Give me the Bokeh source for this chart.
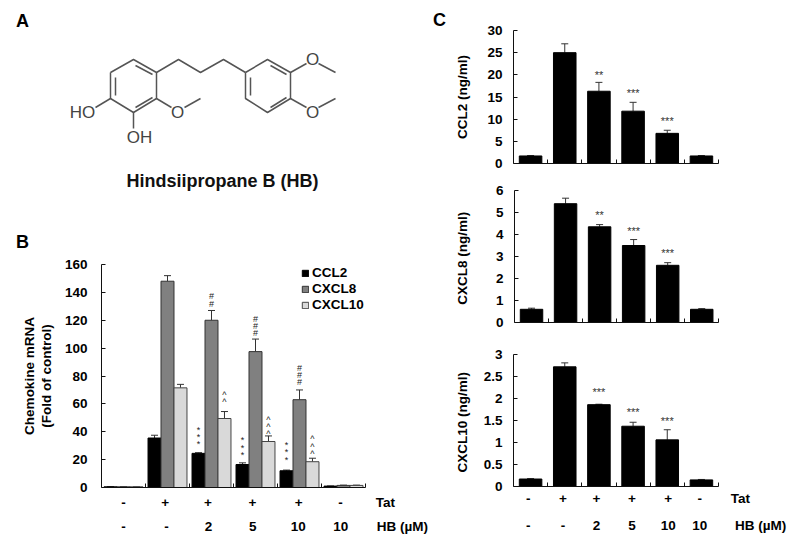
from bokeh.plotting import figure
from bokeh.layouts import row, column
from bokeh.models import (Range1d, FixedTicker, Whisker, TeeHead, ColumnDataSource,
                          Legend, LegendItem, LinearAxis)
from bokeh.core.properties import value
from bokeh.embed import file_html
from bokeh.resources import INLINE

FONT = "Liberation Sans"
INK = "#111111"

# ---- Panel B data
groups = [0, 1, 2, 3, 4, 5]
b_ccl2 = [0.5, 35.5, 24.5, 16.5, 12, 1.0]
b_ccl2_err = [0.1, 2, 0.5, 1.2, 0.5, 0.1]
b_cxcl8 = [0.5, 148, 120, 97.5, 63, 1.5]
b_cxcl8_err = [0.1, 4, 7, 9, 7, 0.2]
b_cxcl10 = [0.5, 71.5, 49.5, 33, 18.5, 1.5]
b_cxcl10_err = [0.1, 2.5, 5, 4, 2.5, 0.2]
b_yticks = [0, 20, 40, 60, 80, 100, 120, 140, 160]
tat_labels = ["-", "+", "+", "+", "+", "-", "Tat"]
hb_labels = ["-", "-", "2", "5", "10", "10", "HB (µM)"]
b_star_group = [2, 3, 4]
b_star_y = [30, 22.3, 19]
b_star_txt = ["***", "***", "***"]
b_hash_y = [129.5, 108, 73]
b_hash_txt = ["##", "###", "###"]
b_care_y = [60, 37, 23]
b_care_txt = ["^^", "^^^", "^^^"]

# ---- Panel C data
c1_vals = [1.7, 25, 16.3, 11.8, 6.8, 1.7]
c1_err = [0.1, 2, 2, 2, 0.7, 0.1]
c1_ticks = [0, 5, 10, 15, 20, 25, 30]
c1_sig = ["**", "***", "***"]
c1_sig_y = [20, 15.8, 9.6]
c2_vals = [0.6, 5.4, 4.35, 3.5, 2.6, 0.6]
c2_err = [0.05, 0.25, 0.1, 0.27, 0.12, 0.03]
c2_ticks = [0, 1, 2, 3, 4, 5, 6]
c2_sig = ["**", "***", "***"]
c2_sig_y = [4.88, 4.17, 3.14]
c3_vals = [0.17, 2.72, 1.86, 1.37, 1.06, 0.15]
c3_err = [0.01, 0.09, 0.01, 0.09, 0.23, 0.01]
c3_ticks = [0, 0.5, 1, 1.5, 2, 2.5, 3]
c3_sig = ["***", "***", "***"]
c3_sig_y = [2.14, 1.70, 1.48]

# ---- Structure drawing (panel A)
ring1 = [(110, 72), (133, 59), (156, 72), (156, 98), (133, 112), (110, 98), (110, 72)]
chain = [(156, 72), (178, 59), (200, 72), (223, 59), (245, 72)]
ring2 = [(245, 72), (267, 59), (290, 72), (290, 98), (267, 112), (245, 98), (245, 72)]
doubles = [((115, 77), (115, 95)), ((135, 65), (152, 74)), ((135, 107), (152, 97)),
           ((250, 77), (250, 95)), ((270, 65), (286, 74)), ((270, 107), (286, 97))]
singles = [((290, 72), (306, 63)), ((318, 63), (335, 72)),
           ((290, 98), (306, 107)), ((318, 107), (335, 98)),
           ((156, 98), (171, 107)), ((184, 107), (200, 98)),
           ((110, 98), (95, 107)), ((133, 112), (133, 128))]
atoms = [(312, 59, "O"), (312, 112, "O"), (177, 112, "O"), (82, 112, "HO"), (139, 137, "OH")]
letters = [(22, 20, "A"), (22, 241, "B"), (439, 19, "C")]


def base_fig(w, h, left, right, top, bottom, ymax, ticks, title, x_end, tick_off, title_off):
    p = figure(width=w, height=h, x_range=Range1d(0, x_end), y_range=Range1d(0, ymax),
               output_backend="svg", toolbar_location=None, frame_align=False,
               x_axis_type=None,
               min_border_left=left, min_border_right=right, min_border_top=top, min_border_bottom=bottom)
    p.outline_line_color = None
    p.grid.visible = False
    p.background_fill_color = None
    p.border_fill_color = None
    ax = p.yaxis[0]
    ax.ticker = FixedTicker(ticks=ticks)
    ax.major_tick_in = 4
    ax.major_tick_out = 0
    ax.minor_tick_line_color = None
    ax.axis_line_color = INK
    ax.major_tick_line_color = INK
    ax.major_label_text_font = FONT
    ax.major_label_text_font_style = "bold"
    ax.major_label_text_font_size = "13.5px"
    ax.major_label_text_color = "#000000"
    ax.major_label_standoff = tick_off
    ax.axis_label = title
    ax.axis_label_text_font = FONT
    ax.axis_label_text_font_style = "bold"
    ax.axis_label_text_font_size = "13.5px"
    ax.axis_label_text_color = "#000000"
    ax.axis_label_standoff = title_off
    ax.axis_label_text_line_height = 1.1
    xa = LinearAxis(ticker=FixedTicker(ticks=[], minor_ticks=[1, 2, 3, 4, 5, 6]), bounds=(0, 6))
    xa.major_tick_line_color = None
    xa.minor_tick_in = 4
    xa.minor_tick_out = 0
    xa.minor_tick_line_color = INK
    xa.axis_line_color = INK
    xa.major_label_standoff = 0
    p.add_layout(xa, "below")
    return p


def errs(p, x, y, e, color):
    src = ColumnDataSource(dict(x=x, low=y, upper=[a + b for a, b in zip(y, e)]))
    p.add_layout(Whisker(source=src, dimension="height", base="x", upper="upper", lower="low",
                         line_color=color, line_width=1, lower_head=None,
                         upper_head=TeeHead(size=7, line_color=color, line_width=1)))


def row_axis(p, labels, xs, standoff):
    a = LinearAxis(ticker=FixedTicker(ticks=xs),
                   major_label_overrides={x: t for x, t in zip(xs, labels)})
    a.axis_line_color = None
    a.major_tick_line_color = None
    a.minor_tick_line_color = None
    a.major_label_standoff = standoff
    a.major_label_text_font = FONT
    a.major_label_text_font_style = "bold"
    a.major_label_text_font_size = "13.5px"
    a.major_label_text_color = "#000000"
    p.add_layout(a, "below")


def stacked(p, xs, ys, marks, drop):
    """Draw each significance mark as a vertical stack of single characters above its bar."""
    sx, sy, st, so = [], [], [], []
    for x, y, m in zip(xs, ys, marks):
        for k, ch in enumerate(m):
            sx.append(x)
            sy.append(y)
            st.append(ch)
            so.append(drop - 3.5 - 7.3 * k)
    p.text(sx, sy, text=st, y_offset=so, text_font=value(FONT), text_font_size="9px",
           text_align="center", text_baseline="middle", text_color="#222222")


# ---- Panel A (drawn in page pixels)
pa = figure(width=443, height=242, x_range=Range1d(8, 451), y_range=Range1d(250, 8),
            output_backend="svg", toolbar_location=None, min_border=0, frame_align=False,
            x_axis_type=None, y_axis_type=None)
pa.grid.visible = False
pa.outline_line_color = None
pa.background_fill_color = None
pa.border_fill_color = None
GREY = "#555555"
for path in (ring1, chain, ring2):
    pa.line([q[0] for q in path], [q[1] for q in path], line_color=GREY, line_width=1.5)
for a, b in doubles + singles:
    pa.line([a[0], b[0]], [a[1], b[1]], line_color=GREY, line_width=1.5)
pa.text([q[0] for q in atoms], [q[1] for q in atoms], text=[q[2] for q in atoms],
        text_font=value(FONT), text_font_size="17px", text_color="#444444",
        text_align="center", text_baseline="middle")
pa.text([222], [180], text=["Hindsiipropane B (HB)"], text_font=value(FONT), text_font_style="bold",
        text_font_size="18px", text_color="#111111", text_align="center", text_baseline="middle")
pa.text([q[0] for q in letters], [q[1] for q in letters], text=[q[2] for q in letters],
        text_font=value(FONT), text_font_style="bold", text_font_size="18px", text_color="#000000",
        text_align="center", text_baseline="middle")

# ---- Panel B
pb = base_fig(443, 288, 93, 0, 14, 51, 160, b_yticks, "Chemokine mRNA\n(Fold of control)", 350 / 44, 14, 8)
xc = [g + 0.5 for g in groups]
off = 0.295
series = [("CCL2", b_ccl2, b_ccl2_err, -off, "#000000", "#000000"),
          ("CXCL8", b_cxcl8, b_cxcl8_err, 0, "#808080", "#333333"),
          ("CXCL10", b_cxcl10, b_cxcl10_err, off, "#d9d9d9", "#444444")]
items = []
for name, vals, err, d, fill, line in series:
    xs = [x + d for x in xc]
    errs(pb, xs, vals, err, "#333333")
    r = pb.vbar(x=xs, top=vals, width=off, bottom=0, fill_color=fill, line_color=line, line_width=1)
    items.append(LegendItem(label=name, renderers=[r]))
leg = Legend(items=items, location=(200, 175), background_fill_alpha=0, border_line_color=None,
             glyph_width=8, glyph_height=8, label_standoff=3, spacing=1, padding=0, margin=0,
             label_height=14, label_text_font=FONT, label_text_font_style="bold",
             label_text_font_size="13.5px", label_text_color="#000000")
pb.add_layout(leg)
stacked(pb, [g + 0.5 - off for g in b_star_group], b_star_y, b_star_txt, 2)
stacked(pb, [g + 0.5 for g in b_star_group], b_hash_y, b_hash_txt, 0)
stacked(pb, [g + 0.5 + off for g in b_star_group], b_care_y, b_care_txt, 2)
row_axis(pb, tat_labels, [0.5, 1.45, 2.42, 3.43, 4.48, 5.43, 6.45], 1)
row_axis(pb, hb_labels, [0.5, 1.48, 2.43, 3.44, 4.47, 5.44, 6.84], 0)


# ---- Panel C
def c_panel(h, top, bottom, ymax, ticks, title, vals, err, sig, sig_y, title_off):
    p = base_fig(338, h, 62, 0, top, bottom, ymax, ticks, title, 276 / (205 / 6), 11, title_off)
    xs = [g + 0.5 for g in groups]
    errs(p, xs, vals, err, "#333333")
    p.vbar(x=xs, top=vals, width=0.66, bottom=0, fill_color="#000000", line_color="#000000")
    p.text([g + 0.5 for g in b_star_group], sig_y, text=sig, text_font=value(FONT), text_font_size="11px",
           text_align="center", text_baseline="middle", text_color="#333333")
    return p


pc1 = c_panel(167, 22, 12, 30, c1_ticks, "CCL2 (ng/ml)", c1_vals, c1_err, c1_sig, c1_sig_y, 14)
pc2 = c_panel(165, 15, 18, 6, c2_ticks, "CXCL8  (ng/ml)", c2_vals, c2_err, c2_sig, c2_sig_y, 23)
pc3 = c_panel(198, 14, 52, 3, c3_ticks, "CXCL10  (ng/ml)", c3_vals, c3_err, c3_sig, c3_sig_y, 11)
row_axis(pc3, tat_labels, [0.43, 1.45, 2.43, 3.47, 4.53, 5.45, 6.64], -2)
row_axis(pc3, hb_labels, [0.43, 1.45, 2.43, 3.47, 4.53, 5.45, 7.23], 3)

page = row(column(pa, pb, spacing=0), column(pc1, pc2, pc3, spacing=0), spacing=0, margin=(8, 0, 0, 8))
open("out.html", "w").write(file_html(page, INLINE))
